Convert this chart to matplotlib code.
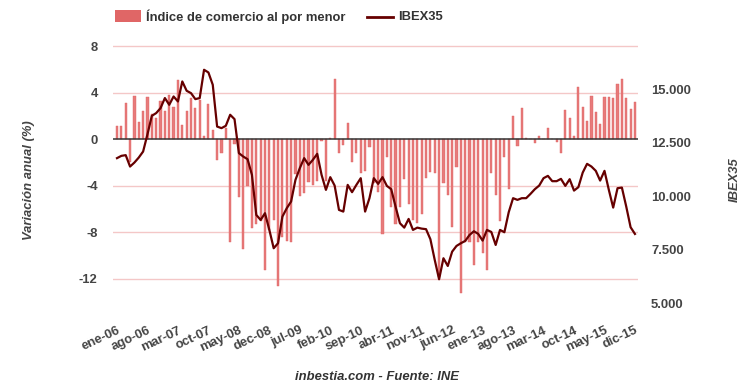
import matplotlib
matplotlib.use("Agg")
import matplotlib.pyplot as plt
from matplotlib.patches import Rectangle
from matplotlib.lines import Line2D
from matplotlib.transforms import blended_transform_factory
import numpy as np

plt.rcParams['font.family'] = ['Liberation Sans', 'DejaVu Sans']

tick_labels = ["ene-06", "ago-06", "mar-07", "oct-07", "may-08", "dec-08", "jul-09", "feb-10",
               "sep-10", "abr-11", "nov-11", "jun-12", "ene-13", "ago-13", "mar-14", "oct-14",
               "may-15", "dic-15"]

retail = [1.1, 1.1, 3.1, -2.0, 3.7, 1.5, 2.4, 3.6, 2.2, 1.8, 3.3, 2.4, 3.8, 2.8, 5.1,
          1.2, 2.4, 3.5, 2.7, 3.4, 0.26, 3.0, 0.8, -1.8, -1.2, 1.0, -8.8, -0.4, -5.0, -9.4,
          -4.0, -7.6, -7.3, -7.0, -11.2, -7.8, -6.9, -12.6, -8.4, -8.7, -8.8, -3.0, -4.9, -4.6, -3.7,
          -3.9, -3.6, -0.15, -3.6, 0.1, 5.2, -1.2, -0.5, 1.4, -2.0, -1.2, -2.9, -2.7, -0.7, -3.8,
          -4.5, -8.1, -1.5, -5.8, -7.3, -5.8, -3.4, -5.6, -6.9, -7.2, -6.4, -3.3, -2.8, -2.9, -11.8,
          -3.75, -4.75, -7.5, -2.4, -13.2, -8.8, -8.8, -10.8, -8.8, -9.8, -11.2, -2.9, -4.75, -7.05, -1.5,
          -4.3, 2.0, -0.6, 2.7, 0.1, 0.0, -0.3, 0.25, 0.0, 1.0, 0.0, -0.2, -1.2, 2.5, 1.8,
          0.25, 4.5, 2.8, 1.6, 3.7, 2.3, 1.3, 3.6, 3.6, 3.5, 4.7, 5.2, 3.5, 2.6, 3.2]

ibex = [11785, 11892, 11925, 11393, 11580, 11813, 12094, 12900, 13760, 13888, 14120, 14590, 14276, 14664, 14430,
        15365, 14930, 14820, 14540, 14590, 15910, 15785, 15210, 13260, 13185, 13295, 13810, 13605, 12020, 11860,
        11735, 11005, 9135, 8900, 9215, 8435, 7580, 7813, 9055, 9448, 9760, 10770, 11318, 11785, 11472,
        11706, 11986, 11005, 10304, 10897, 10505, 9369, 9290, 10537, 10196, 10537, 10850, 9290, 9916, 10850,
        10584, 10897, 10490, 10336, 9523, 8748, 8542, 8948, 8435, 8542, 8495, 8470, 8000, 7033, 6130,
        7112, 6752, 7420, 7687, 7813, 7920, 8200, 8373, 8247, 7935, 8435, 8340, 7733, 8435, 8327,
        9262, 9916, 9837, 9916, 9916, 10117, 10336, 10505, 10850, 10958, 10710, 10710, 10818, 10490, 10803,
        10271, 10430, 11112, 11519, 11393, 11192, 10738, 11192, 10304, 9476, 10383, 10411, 9523, 8560, 8247]

left_ticks = [8, 4, 0, -4, -8, -12]
right_ticks = [5000, 7500, 10000, 12500, 15000]
right_labels = ["5.000", "7.500", "10.000", "12.500", "15.000"]

n = len(retail)
x = np.arange(n)

W, H = 754, 392
fig = plt.figure(figsize=(W / 100, H / 100), dpi=100)
ax = fig.add_axes([113 / W, 1 - 303.5 / H, (638 - 113) / W, (303.5 - 40) / H])
ax2 = ax.twinx()

txt = '#444444'
bar_col = '#e77b7b'
line_col = '#660000'

ax.bar(x, retail, width=0.5, color=bar_col, edgecolor='#e06262', linewidth=0.3, zorder=2)
ax.set_ylim(-14.11, 8.52)
ax.set_xlim(-0.92, 119.7)
ax.set_yticks(left_ticks)
ax.set_yticklabels([str(t) for t in left_ticks], fontsize=9.4, fontweight='bold', color=txt)
for t in left_ticks:
    if t != 0:
        ax.axhline(t, color='#f4c7c7', lw=1, zorder=0)
ax.axhline(0, color='#333333', lw=1.1, zorder=3)
ax.tick_params(axis='y', length=0, pad=11)
ax.set_xticks(np.arange(0, n, 7))
ax.set_xticklabels(tick_labels, rotation=25, ha='right', rotation_mode='anchor',
                   fontsize=9.4, fontweight='bold', color=txt)
ax.tick_params(axis='x', length=0, pad=15)
for s in ax.spines.values():
    s.set_visible(False)

ax2.plot(x, ibex, color=line_col, lw=1.6, zorder=4, solid_joinstyle='round')
ax2.set_ylim(5000, 17300)
ax2.set_yticks([])
for s in ax2.spines.values():
    s.set_visible(False)
tr = blended_transform_factory(fig.transFigure, ax2.transData)
for v, lab in zip(right_ticks, right_labels):
    fig.text(651 / W, v, lab, transform=tr, ha='left', va='center_baseline',
             fontsize=9.4, fontweight='bold', color=txt)

fig.text(29 / W, 1 - 180 / H, "Variación anual (%)", rotation=90, ha='center', va='center',
         fontsize=9.4, fontweight='bold', fontstyle='italic', color=txt)
fig.text(735 / W, 1 - 180 / H, "IBEX35", rotation=90, ha='center', va='center',
         fontsize=9.4, fontweight='bold', fontstyle='italic', color=txt)
fig.text(377 / W, 1 - 377 / H, "inbestia.com - Fuente: INE", ha='center', va='center',
         fontsize=9.4, fontweight='bold', fontstyle='italic', color='#333333')

# legend
fig.patches.append(Rectangle((115 / W, 1 - 22 / H), 26 / W, 12 / H, transform=fig.transFigure,
                             facecolor='#e06666', edgecolor='none'))
fig.text(146 / W, 1 - 16.5 / H, "Índice de comercio al por menor", ha='left', va='center',
         fontsize=9.4, fontweight='bold', color='#333333')
fig.lines.append(Line2D([367 / W, 393 / W], [1 - 16.5 / H, 1 - 16.5 / H], transform=fig.transFigure,
                        color=line_col, lw=2))
fig.text(398 / W, 1 - 16.5 / H, "IBEX35", ha='left', va='center',
         fontsize=9.4, fontweight='bold', color='#333333')

fig.savefig("out.png", dpi=100, facecolor='white')
